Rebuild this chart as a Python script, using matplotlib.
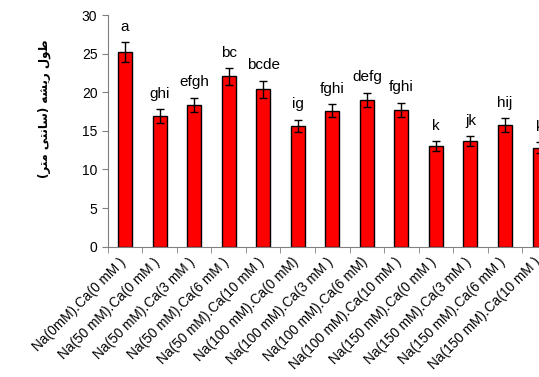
import matplotlib
matplotlib.use("Agg")
import matplotlib.pyplot as plt
import matplotlib.transforms as mtransforms
import numpy as np

plt.rcParams['font.family'] = ['Liberation Sans', 'DejaVu Sans']

# data
treatments = ["Na(0mM).Ca(0 mM )", "Na(50 mM).Ca(0 mM )", "Na(50 mM).Ca(3 mM )",
              "Na(50 mM).Ca(6 mM )", "Na(50 mM).Ca(10 mM )", "Na(100 mM).Ca(0 mM)",
              "Na(100 mM).Ca(3 mM )", "Na(100 mM).Ca(6 mM)", "Na(100 mM).Ca(10 mM )",
              "Na(150 mM).Ca(0 mM )", "Na(150 mM).Ca(3 mM )", "Na(150 mM).Ca(6 mM )",
              "Na(150 mM).Ca(10 mM )"]
root_len = [25.2, 16.9, 18.35, 22.05, 20.4, 15.65, 17.6, 19.0, 17.7, 13.0, 13.7, 15.75, 12.8]
err = [1.3, 0.9, 0.95, 1.1, 1.1, 0.8, 0.85, 0.95, 0.95, 0.65, 0.65, 0.85, 0.7]
letters = ["a", "ghi", "efgh", "bc", "bcde", "ig", "fghi", "defg", "fghi", "k", "jk", "hij", "k"]

# "طول ریشه (سانتی متر)" written in shaped, visual order
ylab = "(\uFEAE\uFE98\uFEE3 \uFEF0\uFE98\uFEE7\uFE8E\uFEB3) \uFEEA\uFEB8\uFEF3\uFEAD \uFEDD\uFEEE\uFEC3"

fig = plt.figure(figsize=(5.39, 3.77), dpi=100)
# the chart runs a little past the right edge, like the original
ax = fig.add_axes([0.2, 0.3456, 0.833, 0.6146])

x = np.arange(len(treatments))
ax.bar(x, root_len, width=0.405, color='#ff0000', edgecolor='black', linewidth=1,
       yerr=err, error_kw=dict(ecolor='black', elinewidth=1, capsize=3, capthick=1))

for xi, v, e, t in zip(x, root_len, err, letters):
    ax.annotate(t, (xi, v + e), xytext=(0, 6), textcoords='offset points',
                ha='center', va='bottom', fontsize=11)

ax.set_xlim(-0.5, len(treatments) - 0.5)
ax.set_ylim(0, 30)
ax.set_yticks(range(0, 31, 5))
ax.set_xticks(x)
ax.set_xticklabels(treatments, rotation=45, ha='right', rotation_mode='anchor', fontsize=9.8)
ax.set_xticks(np.arange(-0.5, len(treatments)), minor=True)
ax.tick_params(axis='x', which='major', length=0, pad=6)
ax.tick_params(axis='x', which='minor', length=4, color='#808080')
ax.tick_params(axis='y', length=4, color='#808080', labelsize=10)

# nudge the slanted labels a few pixels left
shift = mtransforms.ScaledTranslation(-0.065, 0, fig.dpi_scale_trans)
for lab in ax.get_xticklabels():
    lab.set_transform(lab.get_transform() + shift)

for s in ['top', 'right']:
    ax.spines[s].set_visible(False)
for s in ['left', 'bottom']:
    ax.spines[s].set_color('#808080')

fig.text(0.083, 0.713, ylab, rotation=90, ha='center', va='center',
         fontsize=8.5, fontweight='bold', family=['DejaVu Sans'])

fig.savefig('out.png', dpi=100, facecolor='white')
